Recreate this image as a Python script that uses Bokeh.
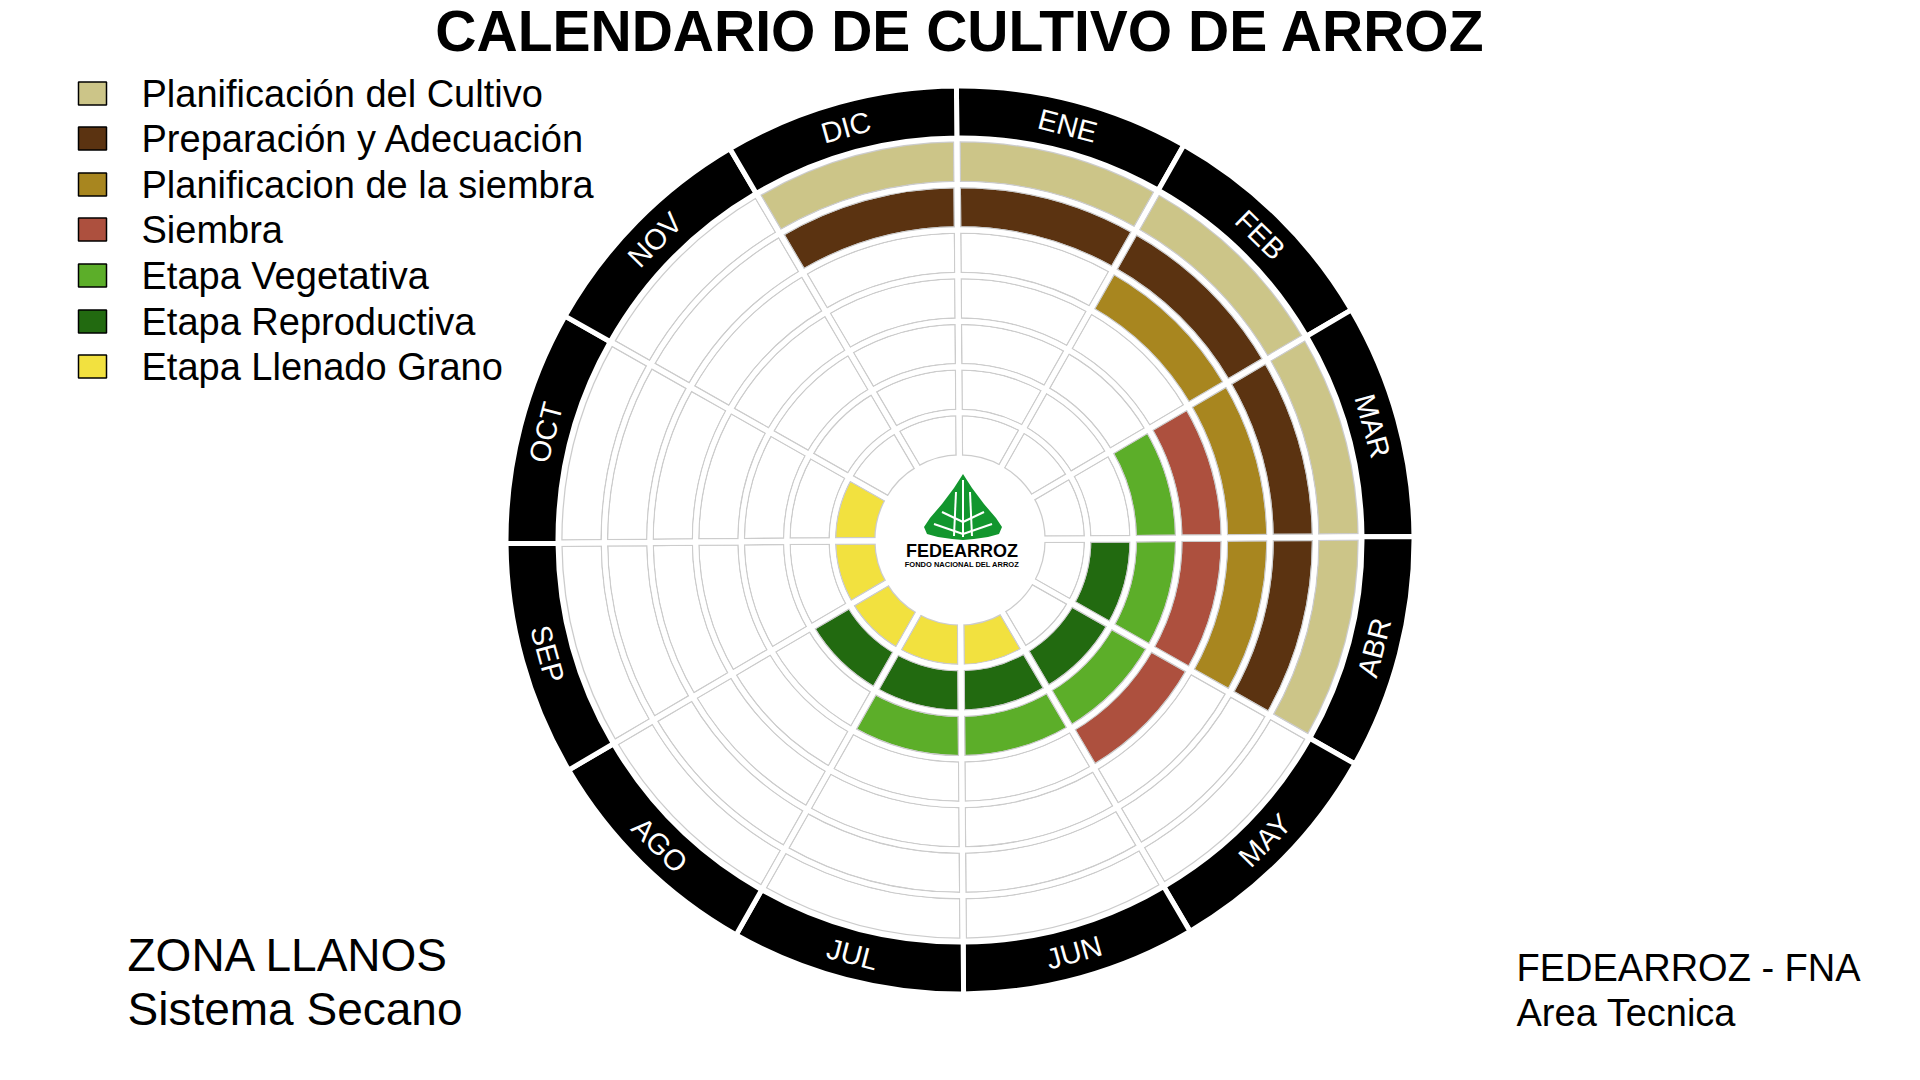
import math
from bokeh.plotting import figure
from bokeh.models import Range1d, ColumnDataSource
from bokeh.core.properties import value
from bokeh.embed import file_html
from bokeh.resources import INLINE

# ---------------- data ----------------
months = ["ENE", "FEB", "MAR", "ABR", "MAY", "JUN", "JUL", "AGO", "SEP", "OCT", "NOV", "DIC"]
stages = ["Planificación del Cultivo", "Preparación y Adecuación", "Planificacion de la siembra",
          "Siembra", "Etapa Vegetativa", "Etapa Reproductiva", "Etapa Llenado Grano"]
stage_colors = ["#CCC588", "#5B3311", "#A8861F", "#AD503E", "#5CAE29", "#226A10", "#F2E13F"]

planificacion_cultivo = ["DIC", "ENE", "FEB", "MAR", "ABR"]
preparacion_adecuacion = ["DIC", "ENE", "FEB", "MAR", "ABR"]
planificacion_siembra = ["FEB", "MAR", "ABR"]
siembra = ["MAR", "ABR", "MAY"]
etapa_vegetativa = ["MAR", "ABR", "MAY", "JUN", "JUL"]
etapa_reproductiva = ["ABR", "MAY", "JUN", "JUL", "AGO"]
etapa_llenado = ["JUN", "JUL", "AGO", "SEP", "OCT"]
stage_months = [planificacion_cultivo, preparacion_adecuacion, planificacion_siembra,
                siembra, etapa_vegetativa, etapa_reproductiva, etapa_llenado]

title = "CALENDARIO DE CULTIVO DE ARROZ"
zone_lines = ["ZONA LLANOS", "Sistema Secano"]
credit_lines = ["FEDEARROZ - FNA", "Area Tecnica"]

# ---------------- layout ----------------
W, H = 1920, 1080
CX, CY = 959.5, H - 539.5
R_HOLE = 82.0
PITCH = 45.6
OFFSET = 0.45  # degrees
R_LAB_IN, R_LAB_OUT = 402.0, 454.0
R_LAB = 428.0
FONT = value("Liberation Sans")

p = figure(width=W, height=H, x_range=Range1d(0, W), y_range=Range1d(0, H),
           output_backend="svg", toolbar_location=None, min_border=0,
           x_axis_type=None, y_axis_type=None)
p.grid.visible = False
p.outline_line_color = None
p.background_fill_color = "white"
p.border_fill_color = "white"

# ---------------- ring cells ----------------
cells = dict(x=[], y=[], ri=[], ro=[], a0=[], a1=[], fill=[])
n_st = len(stages)
for si, st in enumerate(stages):
    k = n_st - 1 - si
    for mi, m in enumerate(months):
        cells["x"].append(CX)
        cells["y"].append(CY)
        cells["ri"].append(R_HOLE + PITCH * k)
        cells["ro"].append(R_HOLE + PITCH * (k + 1))
        cells["a0"].append(math.radians(90 - 30 * (mi + 1) + OFFSET))
        cells["a1"].append(math.radians(90 - 30 * mi + OFFSET))
        cells["fill"].append(stage_colors[si] if m in stage_months[si] else "white")
src = ColumnDataSource(cells)

p.annular_wedge(x="x", y="y", inner_radius="ri", outer_radius="ro",
                start_angle="a0", end_angle="a1", fill_color="fill",
                line_color=None, source=src)
p.annular_wedge(x="x", y="y", inner_radius="ri", outer_radius="ro",
                start_angle="a0", end_angle="a1", fill_color=None, fill_alpha=0,
                line_color="#CCCCCC", line_width=7.5, source=src)
p.annular_wedge(x="x", y="y", inner_radius="ri", outer_radius="ro",
                start_angle="a0", end_angle="a1", fill_color=None, fill_alpha=0,
                line_color="white", line_width=5, source=src)

# hide inner double line
p.circle(x=[CX], y=[CY], radius=R_HOLE - 0.5, fill_color="white", line_color=None)

# ---------------- month ring ----------------
lab = dict(x=[], y=[], a0=[], a1=[], tx=[], ty=[], ang=[], text=[])
for mi, m in enumerate(months):
    lab["x"].append(CX)
    lab["y"].append(CY)
    lab["a0"].append(math.radians(90 - 30 * (mi + 1) + OFFSET))
    lab["a1"].append(math.radians(90 - 30 * mi + OFFSET))
    th = 90 - 30 * mi - 15 + OFFSET
    if th <= -180:
        th += 360
    lab["tx"].append(CX + R_LAB * math.cos(math.radians(th)))
    lab["ty"].append(CY + R_LAB * math.sin(math.radians(th)))
    rot = th - 90 if th > 0 else th + 90
    lab["ang"].append(math.radians(rot))
    lab["text"].append(m)
lsrc = ColumnDataSource(lab)
p.annular_wedge(x="x", y="y", inner_radius=R_LAB_IN, outer_radius=R_LAB_OUT,
                start_angle="a0", end_angle="a1", fill_color="black",
                line_color="white", line_width=5, source=lsrc)
p.text(x="tx", y="ty", text="text", angle="ang", source=lsrc,
       text_color="white", text_font=FONT, text_font_size="29px",
       text_align="center", text_baseline="middle")

# ---------------- center logo ----------------
leaf = [(3, 66), (12, 52), (24, 36), (36, 22), (42, 13), (39, 6), (28, 3), (14, 1), (3, 0),
        (-8, 1), (-22, 3), (-33, 6), (-36, 13), (-30, 22), (-18, 36), (-6, 52)]
p.patch([CX + a for a, b in leaf], [CY + b for a, b in leaf], fill_color="#12962E", line_color=None)
stalks_x = [[CX + 3, CX + 3], [CX - 6, CX - 4], [CX + 12, CX + 10],
            [CX + 3, CX - 26], [CX + 3, CX + 32], [CX + 3, CX - 18], [CX + 3, CX + 24]]
stalks_y = [[CY + 3, CY + 60], [CY + 4, CY + 48], [CY + 4, CY + 48],
            [CY + 6, CY + 16], [CY + 6, CY + 16], [CY + 18, CY + 28], [CY + 18, CY + 28]]
p.multi_line(stalks_x, stalks_y, line_color="white", line_width=2)
p.text(x=[CX + 2], y=[H - 550], text=["FEDEARROZ"], text_font=FONT, text_font_style="bold",
       text_font_size="18px", text_align="center", text_baseline="middle", text_color="black")
p.text(x=[CX + 2], y=[H - 564], text=["FONDO NACIONAL DEL ARROZ"], text_font=FONT,
       text_font_style="bold", text_font_size="7.5px", text_align="center",
       text_baseline="middle", text_color="black")

# ---------------- legend ----------------
leg_y = [93, 138, 184, 229, 275, 321, 366]
p.rect(x=[92] * len(stages), y=[H - v for v in leg_y], width=28, height=23,
       fill_color=stage_colors, line_color="black", line_width=1.5)
p.text(x=[141] * len(stages), y=[H - v for v in leg_y], text=stages, text_font=FONT,
       text_font_size="38px", text_align="left", text_baseline="middle", text_color="black")

# ---------------- titles ----------------
p.text(x=[960], y=[H - 30], text=[title], text_font=FONT, text_font_style="bold",
       text_font_size="57px", text_align="center", text_baseline="middle", text_color="black")
p.text(x=[127, 127], y=[H - 954, H - 1008], text=zone_lines, text_font=FONT,
       text_font_size="46px", text_align="left", text_baseline="middle", text_color="black")
p.text(x=[1516, 1516], y=[H - 967, H - 1012], text=credit_lines, text_font=FONT,
       text_font_size="38px", text_align="left", text_baseline="middle", text_color="black")

open("out.html", "w").write(file_html(p, INLINE))
